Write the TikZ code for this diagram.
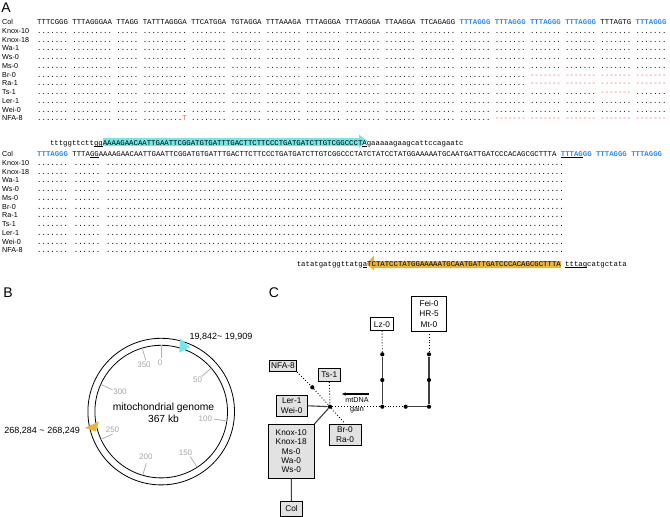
\documentclass[tikz,border=0pt]{standalone}
\usepackage{fontspec}
\setmainfont{Liberation Sans}
\setmonofont{Liberation Mono}
\newfontfamily\dotmono{DejaVu Sans Mono}
\usetikzlibrary{arrows.meta}

\definecolor{teloblue}{RGB}{40,140,245}
\definecolor{delred}{RGB}{240,95,95}
\definecolor{cyanhl}{RGB}{115,232,235}
\definecolor{orangehl}{RGB}{238,178,52}
\definecolor{boxgray}{RGB}{226,226,226}

\newcommand\seqfont{\ttfamily\fontsize{7.3333}{8}\selectfont}
\newcommand\dotfont{\dotmono\fontsize{7.309}{8}\selectfont}
\newcommand\labfont{\fontsize{7.2}{8}\selectfont}
\newcommand\cboxfont{\fontsize{8.3}{9.4}\selectfont}
\newcommand\tickfont{\fontsize{8}{9}\selectfont}
\newcommand\telo[1]{\textcolor{teloblue}{\bfseries #1}}
\newcommand\delmark[1]{\textcolor{delred}{#1}}
\newcommand\seqline[1]{\setbox0\hbox{#1}\rlap{\color{black}\rule[-1.6pt]{\wd0}{0.9pt}}\box0}
\newcommand\dotsAhead{....... ......... ..... .......... ........ ....... ........ ........ ........ ....... ........}
\newcommand\dotsB{....... ...... ........................................................................................................}

\begin{document}
\begin{tikzpicture}[x=1pt, y=-1pt,
    lab/.style={anchor=base west, inner sep=0pt, font=\labfont},
    seq/.style={anchor=base west, inner sep=0pt, font=\seqfont},
    dotrow/.style={anchor=base west, inner sep=0pt, font=\dotfont},
    panel/.style={font=\fontsize{14}{16}\selectfont, inner sep=0pt},
    cbox/.style={draw, line width=0.7pt, inner sep=0pt, align=center, font=\cboxfont},
    gbox/.style={cbox, fill=boxgray},
    cdot/.style={circle, fill, inner sep=0pt, minimum size=4.2pt},
    solidlink/.style={line width=1.1pt, black!75},
    dotlink/.style={dotted, line width=0.9pt},
    tickl/.style={font=\tickfont, text=gray!70, inner sep=0pt}]
  \useasboundingbox (0,0) rectangle (670,517);

  % A: alignment
  \node[panel] (pA) at (6,7.5) {A};
  \foreach \nm [count=\i from 0] in {Col,Knox-10,Knox-18,Wa-1,Ws-0,Ms-0,Br-0,Ra-1,Ts-1,Ler-1,Wei-0,NFA-8}{
    \node[lab] (la\i) at (2,{24.5+8.75*\i}) {\nm};
    \node[lab] (lb\i) at (2,{156.5+8.75*\i}) {\nm};
  }
  \node[seq] (sa0) at (37,24.5) {TTTCGGG TTTAGGGAA TTAGG TATTTAGGGA TTCATGGA TGTAGGA TTTAAAGA TTTAGGGA TTTAGGGA TTAAGGA TTCAGAGG \telo{TTTAGGG TTTAGGG TTTAGGG TTTAGGG} TTTAGTG \telo{TTTAGGG}};
  \foreach \i in {1,2,3,4,5,9,10}
    \node[seq] (sa\i) at (37,{24.5+8.75*\i}) {\dotsAhead{} ....... ....... ....... ....... ....... .......};
  \foreach \i in {6,7}
    \node[seq] (sa\i) at (37,{24.5+8.75*\i}) {\dotsAhead{} ....... ....... \delmark{------- ------- ------- -------}};
  \node[seq] (sa8) at (37,94.5) {\dotsAhead{} ....... ....... ....... ....... \delmark{-------} .......};
  \node[seq] (sa11) at (37,120.75) {....... ......... ..... .........\delmark{T} ........ ....... ........ ........ ........ ....... ........ ....... \delmark{------- ------- ------- ------- -------}};

  % junction fragments
  \fill[cyanhl] (102.6,138.3) rectangle (359,146.2);
  \fill[cyanhl] (359,134.5) -- (367.5,141) -- (359,147.8) -- cycle;
  \fill[orangehl] (374,260.5) rectangle (561,267.5);
  \fill[orangehl] (374,255.5) -- (366.5,263.8) -- (374,270.5) -- cycle;
  \node[seq] (frag1) at (49.8,145) {tttggttctt\seqline{gg}AAAAGAACAATTGAATTCGGATGTGATTTGACTTCTTCCCTGATGATCTTGTCGGCCCT\seqline{A}gaaaaagaagcattccagaatc};
  \node[seq] (sb0) at (37,156.5) {\telo{TTTAGGG} TTTA\seqline{GG} AAAAGAACAATTGAATTCGGATGTGATTTGACTTCTTCCCTGATGATCTTGTCGGCCCTATCTATCCTATGGAAAAATGCAATGATTGATCCCACAGCGCTTTA \telo{\seqline{TTTAG}GG TTTAGGG TTTAGGG}};
  \foreach \i in {1,...,11}
    \node[dotrow] (sb\i) at (37,{156.5+8.75*\i}) {\dotsB};
  \node[seq] (frag2) at (296.6,266) {tatatgatggttatg\seqline{a}TCTATCCTATGGAAAAATGCAATGATTGATCCCACAGCGCTTTA \seqline{tttag}catgctata};

  % B: genome map
  \node[panel] (pB) at (8,293) {B};
  \coordinate (gc) at (161.2,411.6);
  \draw[line width=0.8pt] (gc) circle [radius=73.3];
  \draw[line width=0.8pt] (gc) circle [radius=66.3];
  \foreach \k in {0,50,...,350}
    \draw[gray!60, line width=0.8pt, shift={(gc)}] ({\k/367*360-90}:66.3) -- ({\k/367*360-90}:53.5);
  \foreach \k/\lx/\ly in {0/160.2/362.3, 50/197.5/379.5, 100/205.3/418.8, 150/185.5/452.7, 200/145.8/457, 250/112.5/429.7, 300/120/392, 350/144/365}
    \node[tickl] (tk\k) at (\lx,\ly) {\k};
  \node[align=center, inner sep=0pt, font=\fontsize{10.3}{12.3}\selectfont] (gname) at (163.5,412.5) {mitochondrial genome\\367 kb};
  \fill[cyanhl] (180,338.3) -- (190,347.3) -- (179.3,352.7) -- cycle;
  \fill[orangehl] (85,427.8) -- (99,421.5) -- (95.5,431.5) -- cycle;
  \node[anchor=west, inner sep=0pt, font=\fontsize{9}{10}\selectfont] (posA) at (189.5,336.5) {19,842\textasciitilde{} 19,909};
  \node[anchor=east, inner sep=0pt, font=\fontsize{9}{10}\selectfont] (posB) at (80,430.7) {268,284 \textasciitilde{} 268,249};

  % C: network
  \node[panel] (pC) at (274,293) {C};
  \node[cbox, fill=white, minimum width=22.6, minimum height=13] (lz) at (382,324.2) {Lz-0};
  \node[cbox, fill=white, minimum width=35.4, minimum height=34.3, font=\fontsize{8.3}{10.3}\selectfont] (fei) at (429,313.8) {Fei-0\\HR-5\\Mt-0};
  \node[gbox, minimum width=27.4, minimum height=11.7] (nfa) at (283,365.8) {NFA-8};
  \node[gbox, minimum width=22.7, minimum height=13.4] (ts) at (329.3,375) {Ts-1};
  \node[gbox, minimum width=31.3, minimum height=21.7] (ler) at (291.7,405.8) {Ler-1\\Wei-0};
  \node[gbox, minimum width=32, minimum height=21.7] (br) at (345,434.8) {Br-0\\Ra-0};
  \node[gbox, minimum width=45.7, minimum height=54, font=\fontsize{8.3}{9.2}\selectfont] (knox) at (291.2,451.3) {Knox-10\\Knox-18\\Ms-0\\Wa-0\\Ws-0};
  \node[gbox, minimum width=21.6, minimum height=14.3] (col) at (291.5,508.8) {Col};

  \node[cdot] (hub) at (330,406.7) {};
  \node[cdot] (nd) at (312.3,387.3) {};
  \node[cdot] (h1) at (382.3,406.7) {};
  \node[cdot] (h2) at (405.7,406.7) {};
  \node[cdot] (h3) at (429,406.7) {};
  \node[cdot] (v1a) at (382.3,380) {};
  \node[cdot] (v1b) at (382.3,354.3) {};
  \node[cdot] (v2a) at (429,380) {};
  \node[cdot] (v2b) at (429,354.3) {};

  \draw[dotlink] (nfa.south east) -- (nd) -- (hub);
  \draw[dotlink] (hub) -- (br.north);
  \draw[dotlink] (ts.south) -- (hub);
  \draw[solidlink] (ler.east) -- (hub);
  \draw[solidlink] (knox.north east) -- (hub);
  \draw[solidlink] (knox) -- (col);
  \draw[dotlink] (hub) -- (h1) -- (h2);
  \draw[solidlink] (h2) -- (h3);
  \draw[solidlink] (h1) -- (v1a) -- (v1b);
  \draw[dotlink] (v1b) -- (lz);
  \draw[solidlink] (h3) -- (v2a) -- (v2b);
  \draw[dotlink] (v2b) -- (fei);

  \coordinate (gs) at (369.3,394);
  \coordinate (ge) at (341.7,394);
  \draw[-{Latex[length=4pt,width=3.6pt]}, line width=1.1pt] (gs) -- (ge);
  \node[align=center, inner sep=0pt, font=\fontsize{7.2}{8.6}\selectfont] (gain) at (357,405.5) {mtDNA\\gain};
\end{tikzpicture}
\end{document}
